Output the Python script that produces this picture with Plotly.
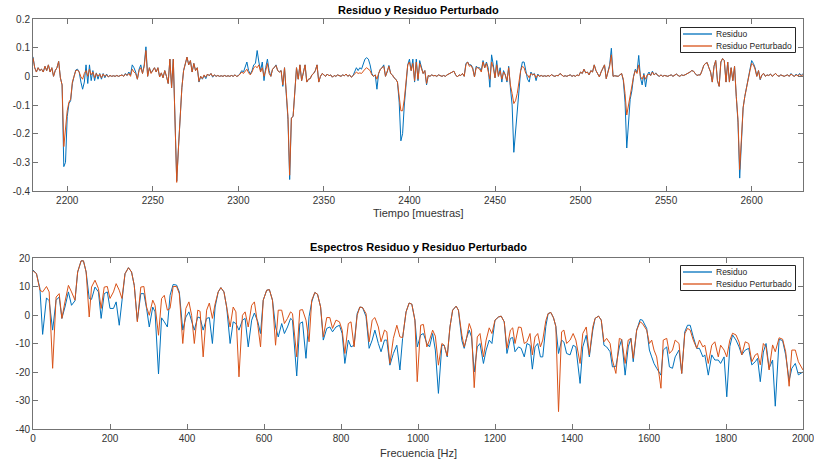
import plotly.graph_objects as go

# ---------------- data: top panel (time domain) ----------------
sample_start = 2180
sample_end = 2630
samples = list(range(sample_start, sample_end + 1))

residuo_pert = [
    0.065, 0.030, 0.015, 0.030, 0.020, 0.025, 0.015, 0.035, 0.020, 0.040,
    0.015, 0.030, 0.000, 0.020, 0.030, 0.052, -0.005, -0.030, -0.245, -0.190,
    -0.120, -0.090, -0.080, -0.020, 0.000, 0.020, 0.022, 0.015, -0.002, -0.010,
    0.010, 0.020, 0.000, 0.025, 0.005, 0.015, -0.005, 0.010, 0.000, 0.008,
    -0.005, 0.008, 0.000, 0.005, -0.002, 0.003, 0.000, 0.002, 0.000, 0.003,
    0.000, 0.002, 0.005, 0.000, 0.008, 0.003, 0.010, 0.000, 0.025, 0.015,
    0.010, -0.010, 0.020, 0.030, 0.010, 0.035, 0.090, 0.000, 0.030, 0.010,
    0.020, 0.030, 0.015, 0.030, -0.002, 0.012, -0.005, 0.020, 0.000, -0.025,
    0.060, -0.040, 0.060, -0.140, -0.370, -0.250, -0.120, -0.040, 0.020, 0.045,
    0.067, 0.040, 0.055, 0.015, 0.045, 0.020, 0.030, -0.018, 0.000, -0.008,
    0.005, -0.003, 0.008, 0.002, 0.010, 0.000, 0.005, 0.000, 0.003, 0.000,
    0.002, 0.000, 0.003, 0.000, 0.002, 0.000, 0.003, 0.000, 0.005, 0.000,
    0.002, 0.008, 0.015, 0.010, 0.020, 0.025, 0.012, 0.005, 0.015, 0.030,
    0.035, 0.030, 0.040, 0.015, 0.030, 0.000, 0.020, 0.045, 0.010, 0.000,
    0.025, 0.030, 0.038, 0.020, 0.015, 0.020, -0.030, 0.030, -0.050, -0.140,
    -0.345, -0.145, -0.140, -0.040, 0.030, -0.010, 0.040, -0.015, 0.010, 0.040,
    -0.020, -0.010, -0.008, 0.005, 0.010, 0.020, 0.040, -0.020, 0.000, 0.010,
    0.005, 0.000, 0.008, 0.002, 0.005, -0.003, 0.003, 0.000, 0.005, 0.002,
    0.000, 0.005, 0.002, 0.008, 0.000, 0.005, -0.003, 0.002, 0.010, 0.015,
    0.010, 0.012, 0.010, 0.020, 0.025, 0.030, 0.025, 0.020, 0.005, 0.000,
    0.005, -0.010, 0.010, 0.025, 0.030, 0.035, 0.000, 0.015, 0.035, 0.010,
    0.005, -0.005, -0.010, -0.020, -0.070, -0.120, -0.120, -0.080, -0.020, 0.040,
    0.050, 0.020, 0.045, -0.015, 0.050, -0.010, 0.045, 0.025, 0.010, 0.020,
    -0.025, 0.003, 0.000, 0.005, 0.002, 0.003, 0.000, 0.005, 0.002, 0.000,
    0.003, 0.000, 0.005, 0.008, 0.010, 0.015, 0.018, 0.005, -0.002, 0.005,
    0.003, 0.010, 0.000, 0.040, 0.050, 0.035, 0.038, 0.025, -0.002, 0.030,
    0.030, 0.025, 0.015, 0.050, 0.030, 0.045, 0.020, -0.010, 0.050, 0.030,
    -0.005, 0.040, 0.000, 0.020, -0.010, 0.015, 0.005, -0.015, 0.030, -0.030,
    -0.060, -0.095, -0.085, -0.060, -0.020, 0.020, 0.035, 0.030, 0.010, 0.005,
    -0.005, 0.010, 0.005, 0.008, -0.005, 0.005, 0.000, 0.003, 0.000, 0.002,
    0.000, 0.003, 0.000, 0.006, 0.002, 0.000, 0.003, 0.002, 0.010, 0.003,
    0.000, 0.002, 0.000, 0.003, 0.005, 0.000, 0.003, 0.000, 0.005, 0.002,
    0.015, 0.010, 0.025, 0.012, 0.015, 0.005, 0.020, 0.015, 0.040, 0.020,
    0.010, -0.002, 0.015, 0.030, 0.040, -0.008, 0.015, 0.035, 0.075, 0.000,
    0.002, 0.000, 0.000, 0.005, 0.010, -0.010, -0.060, -0.135, -0.100, -0.070,
    -0.040, 0.000, 0.020, 0.010, 0.040, 0.000, -0.010, 0.005, -0.010, 0.005,
    0.008, 0.003, 0.015, 0.005, 0.010, 0.003, 0.000, 0.005, 0.000, 0.003,
    0.002, 0.000, 0.003, 0.005, 0.000, 0.003, 0.008, 0.003, 0.000, 0.005,
    0.003, 0.005, 0.008, 0.010, 0.015, 0.020, 0.018, 0.010, 0.003, 0.005,
    0.005, 0.020, 0.038, 0.045, 0.048, 0.030, 0.015, -0.020, 0.035, 0.055,
    -0.015, -0.035, 0.050, 0.062, 0.055, -0.020, 0.050, -0.020, 0.030, -0.015,
    0.035, -0.070, -0.150, -0.325, -0.190, -0.110, -0.070, -0.040, 0.000, 0.020,
    0.045, 0.040, 0.025, 0.000, 0.020, -0.010, 0.005, 0.010, 0.000, 0.005,
    0.003, 0.008, 0.000, 0.005, 0.010, 0.003, 0.000, 0.005, 0.002, 0.000,
    0.003, 0.005, 0.000, 0.008, 0.003, 0.000, 0.005, 0.002, 0.006, 0.003, 0.005,
]

residuo = [
    0.068, 0.030, 0.015, 0.030, 0.020, 0.025, 0.015, 0.035, 0.020, 0.040,
    0.015, 0.030, 0.000, 0.020, 0.030, 0.052, -0.005, -0.030, -0.315, -0.300,
    -0.140, -0.095, -0.085, -0.025, 0.000, 0.022, 0.025, 0.015, -0.020, -0.045,
    -0.020, 0.040, -0.025, 0.040, -0.015, 0.020, -0.015, 0.012, -0.010, 0.010,
    -0.010, 0.010, -0.005, 0.008, -0.002, 0.003, 0.000, 0.002, 0.000, 0.003,
    0.000, 0.002, 0.005, 0.000, 0.010, 0.003, 0.015, 0.005, 0.040, 0.030,
    0.015, -0.010, 0.025, 0.040, 0.010, 0.040, 0.103, 0.000, 0.030, 0.012,
    0.020, 0.030, 0.015, 0.030, -0.002, 0.012, -0.005, 0.020, 0.000, -0.025,
    0.060, -0.040, 0.060, -0.140, -0.365, -0.250, -0.120, -0.040, 0.020, 0.045,
    0.067, 0.040, 0.055, 0.015, 0.045, 0.020, 0.030, -0.020, 0.000, -0.010,
    0.003, -0.008, 0.008, 0.002, 0.010, -0.003, 0.005, 0.000, 0.003, 0.000,
    0.002, 0.000, 0.003, 0.000, 0.002, 0.000, 0.003, 0.000, 0.005, 0.000,
    0.002, 0.010, 0.020, 0.015, 0.035, 0.050, 0.020, 0.008, 0.020, 0.040,
    0.045, 0.090, 0.050, 0.020, 0.050, -0.015, 0.030, 0.060, 0.020, 0.000,
    0.025, 0.030, 0.040, 0.020, 0.015, 0.020, -0.035, 0.030, -0.060, -0.150,
    -0.360, -0.145, -0.140, -0.040, 0.030, -0.010, 0.040, -0.015, 0.010, 0.040,
    -0.020, -0.010, -0.008, 0.005, 0.010, 0.020, 0.040, -0.020, 0.000, 0.010,
    0.005, 0.000, 0.008, 0.002, 0.005, -0.003, 0.003, 0.000, 0.005, 0.002,
    0.000, 0.005, 0.002, 0.008, 0.000, 0.005, -0.003, 0.002, 0.015, 0.030,
    0.020, 0.030, 0.025, 0.045, 0.060, 0.065, 0.060, 0.040, 0.010, 0.000,
    0.005, -0.045, 0.010, 0.025, 0.030, 0.040, 0.000, 0.015, 0.038, 0.010,
    0.005, -0.005, -0.010, -0.020, -0.090, -0.225, -0.200, -0.100, -0.020, 0.040,
    0.060, 0.020, 0.060, -0.020, 0.060, -0.015, 0.055, 0.030, 0.010, 0.020,
    -0.030, 0.003, 0.000, 0.005, 0.002, 0.003, 0.000, 0.005, 0.002, 0.000,
    0.003, 0.000, 0.005, 0.008, 0.010, 0.015, 0.018, 0.005, -0.002, 0.005,
    0.003, 0.010, 0.000, 0.045, 0.050, 0.040, 0.040, 0.030, -0.002, 0.035,
    0.030, 0.030, 0.020, 0.055, 0.030, 0.050, 0.030, -0.038, 0.075, 0.040,
    -0.005, 0.055, 0.000, 0.030, -0.020, 0.020, 0.005, -0.020, 0.035, -0.040,
    -0.100, -0.265, -0.190, -0.110, -0.050, 0.020, 0.050, 0.050, 0.020, -0.010,
    -0.020, 0.015, 0.005, 0.010, -0.015, 0.008, 0.000, 0.003, 0.000, 0.002,
    0.000, 0.003, 0.000, 0.006, 0.002, 0.000, 0.003, 0.002, 0.010, 0.003,
    0.000, 0.002, 0.000, 0.003, 0.005, 0.000, 0.003, 0.000, 0.005, 0.002,
    0.015, 0.010, 0.025, 0.012, 0.015, 0.005, 0.020, 0.015, 0.040, 0.020,
    0.010, -0.002, 0.015, 0.030, 0.040, -0.008, 0.015, 0.040, 0.098, 0.000,
    0.002, 0.000, 0.000, 0.005, 0.010, -0.015, -0.090, -0.250, -0.150, -0.080,
    -0.050, 0.000, 0.025, 0.015, 0.073, -0.005, -0.030, 0.010, -0.037, 0.005,
    0.015, 0.003, 0.018, 0.005, 0.012, 0.003, 0.000, 0.005, 0.000, 0.003,
    0.002, 0.000, 0.003, 0.005, 0.000, 0.003, 0.008, 0.003, 0.000, 0.005,
    0.003, 0.005, 0.008, 0.010, 0.015, 0.020, 0.018, 0.010, 0.003, 0.005,
    0.005, 0.020, 0.038, 0.045, 0.048, 0.030, 0.015, -0.020, 0.035, 0.055,
    -0.015, -0.035, 0.050, 0.062, 0.055, -0.020, 0.050, -0.020, 0.030, -0.015,
    0.035, -0.070, -0.160, -0.355, -0.200, -0.110, -0.070, -0.040, 0.000, 0.025,
    0.055, 0.045, 0.030, 0.000, 0.020, -0.012, 0.005, 0.010, 0.000, 0.005,
    0.003, 0.008, 0.000, 0.005, 0.010, 0.003, 0.000, 0.005, 0.002, 0.000,
    0.003, 0.005, 0.000, 0.010, 0.003, 0.000, 0.008, 0.002, 0.010, 0.003, 0.010,
]

# ---------------- data: bottom panel (spectra, dB) ----------------
freq_hz = [
    0, 9, 18, 25, 35, 42, 51, 60, 68, 75,
    83, 92, 100, 109, 116, 125, 131, 138, 146, 152,
    161, 170, 177, 185, 193, 200, 209, 216, 224, 231,
    239, 248, 256, 263, 271, 280, 288, 295, 302, 311,
    317, 326, 334, 341, 349, 356, 364, 373, 380, 389,
    397, 405, 412, 419, 428, 434, 442, 451, 458, 466,
    473, 481, 488, 496, 503, 512, 520, 527, 535, 544,
    551, 559, 568, 575, 584, 591, 598, 607, 614, 622,
    630, 637, 646, 653, 661, 669, 674, 685, 693, 700,
    709, 717, 724, 732, 739, 747, 754, 763, 771, 778,
    787, 796, 803, 810, 819, 826, 834, 842, 849, 856,
    865, 873, 881, 888, 897, 904, 913, 919, 927, 936,
    945, 953, 960, 969, 977, 984, 992, 998, 1007, 1014,
    1023, 1030, 1038, 1045, 1053, 1062, 1068, 1076, 1083, 1090,
    1099, 1105, 1114, 1120, 1126, 1133, 1139, 1146, 1154, 1161,
    1170, 1177, 1185, 1192, 1200, 1209, 1216, 1224, 1231, 1240,
    1246, 1252, 1261, 1268, 1276, 1283, 1291, 1297, 1304, 1311,
    1318, 1324, 1332, 1338, 1345, 1352, 1358, 1365, 1373, 1379,
    1386, 1395, 1403, 1410, 1421, 1428, 1437, 1445, 1454, 1460,
    1469, 1476, 1483, 1490, 1499, 1505, 1514, 1523, 1529, 1538,
    1546, 1553, 1559, 1568, 1577, 1583, 1594, 1601, 1607, 1613,
    1620, 1631, 1637, 1646, 1653, 1661, 1668, 1678, 1685, 1693,
    1700, 1707, 1715, 1724, 1731, 1740, 1745, 1754, 1763, 1771,
    1780, 1786, 1795, 1802, 1810, 1817, 1826, 1834, 1841, 1850,
    1859, 1867, 1876, 1882, 1889, 1897, 1904, 1912, 1921, 1928,
    1938, 1947, 1955, 1964, 1971, 1980, 1988, 2000,
]

espectro_pert = [
    15.5, 14.5, 8.7, 8.1, 10.0, 8.1, -18.7, 6.3, 7.5, -1.2,
    4.6, 10.4, 8.1, 5.2, 15.1, 19.0, 19.0, 15.1, -0.7, 9.8,
    12.2, 9.3, 2.3, 9.8, 10.0, 5.8, 8.1, 11.0, 8.7, 5.8,
    14.5, 16.6, 15.1, 10.4, -2.4, 9.8, 10.0, 2.8, -0.1, 5.2,
    3.4, -7.1, 5.8, 6.9, 1.7, 2.3, 10.0, 10.0, 7.5, -10.0,
    2.3, 4.6, -0.1, -10.0, 1.7, 1.3, -14.7, 1.7, 4.2, -1.2,
    3.9, 8.1, 9.6, 8.1, 2.8, -4.2, 2.8, 1.1, -21.7, -0.1,
    1.1, -4.2, 3.4, 4.6, -3.6, -11.2, 5.2, 8.7, 8.9, 5.2,
    -10.6, 1.7, 1.7, -3.0, -1.2, 1.1, 0.5, -14.7, 1.7, 1.9,
    -1.8, -9.4, 5.2, 7.9, 7.3, 2.8, -7.7, -0.9, -0.9, -4.7,
    -1.8, -2.4, -5.3, -13.5, -3.0, -2.4, -11.2, -0.1, 2.8, 2.6,
    0.5, -9.4, -1.8, -0.9, -4.2, -9.4, -5.3, -5.9, -17.0, -8.2,
    -3.6, -7.7, -7.9, 1.1, 4.2, 3.8, -1.8, -23.4, -3.6, -3.3,
    -11.2, -8.8, -5.3, -7.4, -17.6, -10.0, -10.6, -14.4, -4.2, 1.7,
    3.1, 1.7, -7.1, -11.2, -8.2, -3.0, -5.3, -25.5, -7.7, -6.5,
    -14.7, -8.8, -4.5, -6.5, -1.8, -0.7, -0.4, -2.4, -11.7, -5.3,
    -4.5, -10.0, -4.2, -4.4, -10.0, -9.4, -6.5, -14.0, -7.7, -6.5,
    -11.2, -8.8, -2.0, 0.5, 0.9, -1.0, -4.0, -33.9, -5.9, -5.3,
    -10.0, -8.8, -6.5, -8.8, -17.0, -6.5, -4.2, -14.0, -4.2, -1.2,
    -0.4, -1.8, -9.4, -8.2, -10.0, -15.8, -20.5, -8.2, -8.6, -17.0,
    -8.8, -8.2, -15.2, -5.3, -2.4, -3.0, -5.3, -10.0, -8.8, -12.3,
    -14.7, -25.7, -8.8, -8.2, -13.5, -12.3, -8.8, -10.0, -20.5, -6.5,
    -4.7, -5.3, -8.8, -11.7, -8.8, -11.2, -10.6, -17.0, -10.6, -9.4,
    -14.7, -10.6, -12.3, -14.7, -8.8, -6.4, -7.0, -9.5, -14.0, -9.4,
    -10.0, -16.4, -14.0, -13.5, -17.5, -10.0, -11.2, -19.3, -10.5, -12.9,
    -8.0, -8.5, -12.9, -25.0, -12.3, -12.3, -16.4, -19.3,
]

espectro_res = [
    15.8, 14.5, 9.3, -6.8, 6.0, 5.0, -5.3, 5.2, 6.3, -1.2,
    2.8, 8.1, 3.4, 5.0, 15.1, 19.0, 19.0, 15.1, 5.8, 5.5,
    9.8, 8.1, -1.2, 7.5, 8.1, 2.3, 2.3, 4.6, -3.6, 6.0,
    14.5, 16.6, 15.1, 10.4, -2.0, 7.5, 7.5, 2.3, -4.2, 2.8,
    1.1, -20.7, -1.0, -2.4, -4.2, 6.9, 10.7, 10.5, 8.1, -5.3,
    -0.7, 1.1, -2.4, -5.3, -0.7, -1.0, -5.3, -1.2, -0.9, -10.0,
    2.8, 8.1, 9.6, 8.1, 2.8, -10.0, -2.4, -3.0, -5.3, -1.8,
    -1.2, -11.2, -1.8, 0.7, -2.4, -6.5, 5.2, 8.7, 8.9, 5.2,
    -4.2, -7.7, -3.0, -6.5, -4.2, -1.2, -1.8, -21.4, -3.0, -2.4,
    -15.2, -0.6, 4.6, 7.9, 7.3, 2.8, -8.8, -4.7, -4.2, -5.9,
    -4.2, -3.6, -6.5, -17.0, -8.8, -11.2, -10.6, 0.5, 2.8, 2.6,
    -0.5, -11.7, -8.8, -5.3, -10.0, -12.9, -8.8, -8.8, -17.6, -13.5,
    -10.6, -19.3, -8.2, 1.1, 4.2, 3.8, -1.8, -11.2, -7.0, -6.5,
    -10.0, -11.2, -6.5, -12.3, -27.5, -10.6, -10.6, -14.7, -4.2, 1.7,
    3.1, 1.7, -9.0, -11.7, -8.2, -5.3, -7.7, -20.0, -11.2, -10.0,
    -17.0, -12.3, -8.8, -10.0, -1.8, -0.7, -0.4, -2.4, -13.5, -8.2,
    -7.9, -12.9, -11.2, -11.7, -14.7, -10.0, -10.6, -19.0, -11.2, -10.0,
    -14.7, -14.7, -4.0, 0.5, 0.9, -1.0, -4.0, -13.5, -8.8, -9.5,
    -13.5, -14.0, -10.6, -11.2, -24.0, -11.2, -7.1, -14.7, -5.3, -1.2,
    -0.4, -1.8, -10.6, -11.2, -12.9, -18.2, -18.0, -11.2, -8.6, -21.1,
    -11.2, -8.2, -16.4, -5.3, -1.6, -1.8, -4.7, -12.3, -14.7, -17.0,
    -18.7, -21.1, -12.3, -11.2, -18.2, -18.7, -14.7, -12.3, -20.5, -5.9,
    -3.6, -3.6, -7.7, -11.7, -11.7, -14.7, -14.0, -21.1, -14.0, -15.8,
    -15.8, -17.0, -14.7, -28.7, -11.0, -7.0, -8.8, -11.2, -14.0, -12.3,
    -11.7, -17.5, -16.4, -15.2, -23.4, -13.0, -10.0, -18.7, -15.8, -32.0,
    -8.5, -9.0, -14.0, -23.0, -18.7, -17.0, -21.0, -20.0,
]

# ---------------- ticks / labels ----------------
top_xticks = [2200, 2250, 2300, 2350, 2400, 2450, 2500, 2550, 2600]
top_yticks = [-0.4, -0.3, -0.2, -0.1, 0, 0.1, 0.2]
top_yticklabels = ["-0.4", "-0.3", "-0.2", "-0.1", "0", "0.1", "0.2"]
bot_xticks = [0, 200, 400, 600, 800, 1000, 1200, 1400, 1600, 1800, 2000]
bot_yticks = [-40, -30, -20, -10, 0, 10, 20]
bot_yticklabels = ["-40", "-30", "-20", "-10", "0", "10", "20"]
series_names = ["Residuo", "Residuo Perturbado"]

assert len(residuo) == len(samples) == len(residuo_pert)
assert len(freq_hz) == len(espectro_res) == len(espectro_pert)

# ---------------- style / layout ----------------
W, H = 814, 463
BLUE = "#0072BD"
ORANGE = "#D95319"
COLORS = [BLUE, ORANGE]
FONT = "Liberation Sans, Arial, Helvetica, sans-serif"
AXC = "#737373"
TXT = "#333333"


def fx(p):
    return p / W


def fy(p):
    return 1 - p / H


fig = go.Figure()
fig.add_trace(go.Scatter(x=samples, y=residuo, mode="lines", name=series_names[0],
                         line=dict(color=BLUE, width=1), xaxis="x", yaxis="y"))
fig.add_trace(go.Scatter(x=samples, y=residuo_pert, mode="lines", name=series_names[1],
                         line=dict(color=ORANGE, width=1), xaxis="x", yaxis="y"))
fig.add_trace(go.Scatter(x=freq_hz, y=espectro_res, mode="lines", name=series_names[0],
                         line=dict(color=BLUE, width=1), xaxis="x2", yaxis="y2"))
fig.add_trace(go.Scatter(x=freq_hz, y=espectro_pert, mode="lines", name=series_names[1],
                         line=dict(color=ORANGE, width=1), xaxis="x2", yaxis="y2"))

common = dict(showline=True, linecolor=AXC, linewidth=1, mirror="ticks",
              ticks="inside", ticklen=5, tickcolor=AXC, tickwidth=1,
              showgrid=False, zeroline=False, automargin=False,
              ticklabeloverflow="allow",
              tickfont=dict(family=FONT, size=10, color=TXT))

xdom = [fx(33), fx(803)]
fig.update_layout(
    width=W, height=H, autosize=False,
    margin=dict(l=0, r=0, t=0, b=0, autoexpand=False),
    paper_bgcolor="white", plot_bgcolor="white",
    font=dict(family=FONT, size=10, color=TXT),
    showlegend=False,
    xaxis=dict(domain=xdom, range=[sample_start, sample_end], anchor="y",
               tickvals=top_xticks, **common),
    yaxis=dict(domain=[fy(191), fy(19)], range=[-0.4, 0.2], anchor="x",
               tickvals=top_yticks, ticktext=top_yticklabels, **common),
    xaxis2=dict(domain=xdom, range=[0, 2000], anchor="y2",
                tickvals=bot_xticks, **common),
    yaxis2=dict(domain=[fy(429), fy(258)], range=[-40, 20], anchor="x2",
                tickvals=bot_yticks, ticktext=bot_yticklabels, **common),
)

# MATLAB-style legend boxes (paper-space shapes: white box, coloured key lines)
shapes = []
for top in (27, 265):
    shapes.append(dict(type="rect", xref="paper", yref="paper",
                       x0=fx(680.5), x1=fx(795.5), y0=fy(top + 0.5), y1=fy(top + 25.5),
                       line=dict(color="#262626", width=1), fillcolor="white",
                       layer="above"))
    for i, col in enumerate(COLORS):
        yy = top + 7 + 12 * i
        shapes.append(dict(type="line", xref="paper", yref="paper",
                           x0=fx(683), x1=fx(712), y0=fy(yy), y1=fy(yy),
                           line=dict(color=col, width=1.3), layer="above"))
fig.update_layout(shapes=shapes)

# titles, axis labels, legend texts
annotations = [
    ("<b>Residuo y Residuo Perturbado</b>", 418, 10, "#000000", "center", 11),
    ("Tiempo [muestras]", 418, 213, TXT, "center", 11),
    ("<b>Espectros Residuo y Residuo Perturbado</b>", 418, 247, "#000000", "center", 11),
    ("Frecuencia [Hz]", 418, 453, TXT, "center", 11),
]
for top in (27, 265):
    for i, name in enumerate(series_names):
        annotations.append((name, 714, top + 7 + 12 * i, "#262626", "left", 8.5))

for text, x, y, col, anchor, size in annotations:
    fig.add_annotation(text=text, x=fx(x), y=fy(y), xref="paper", yref="paper",
                       xanchor=anchor, yanchor="middle", showarrow=False,
                       font=dict(family=FONT, size=size, color=col))

fig.write_html("out.html")
